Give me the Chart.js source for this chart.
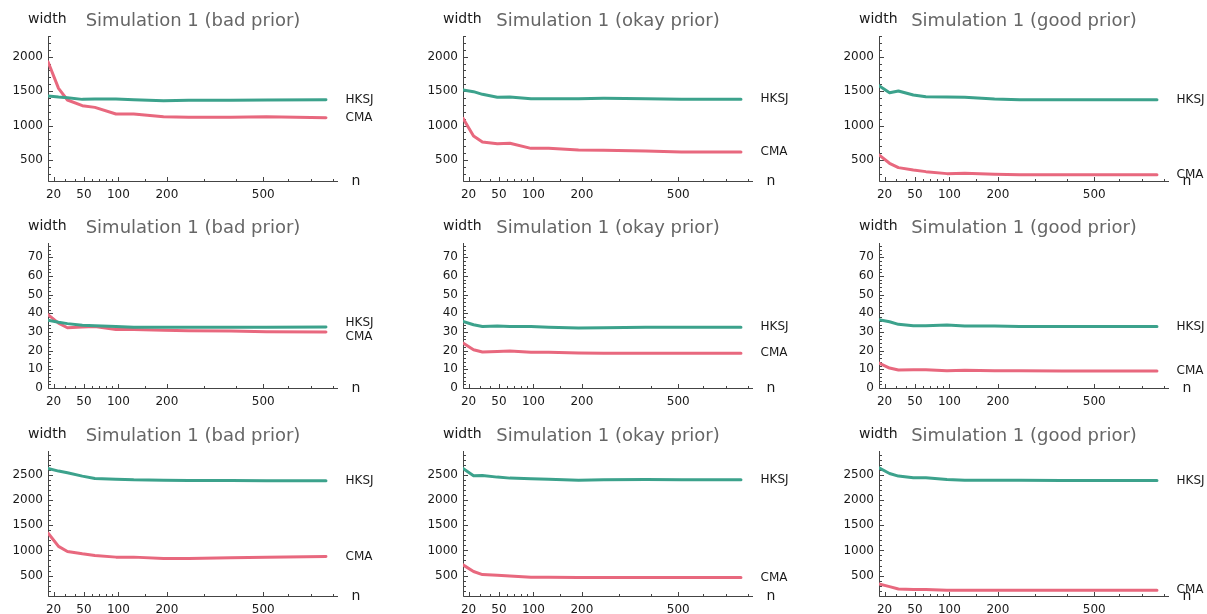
<!DOCTYPE html>
<html>
<head>
<meta charset="utf-8">
<script src="https://cdn.jsdelivr.net/npm/chart.js@4/dist/chart.umd.min.js"></script>
<style>
  html, body { margin: 0; padding: 0; background: #fff; overflow: hidden; }
  #grid { position: relative; width: 1207px; height: 614px; }
  #grid canvas { position: absolute; }
</style>
</head>
<body>
<div id="grid"></div>
<script>
// sample sizes (x values shared by every panel)
const nValues = [16, 24, 32, 48, 64, 96, 128, 192, 256, 384, 512, 768];

// row 1
const hksjBad1  = [1429, 1414, 1405, 1380, 1385, 1385, 1376, 1361, 1366, 1366, 1371, 1376];
const cmaBad1   = [1927, 1540, 1371, 1289, 1264, 1168, 1168, 1129, 1120, 1120, 1129, 1115];
const hksjOkay1 = [1516, 1492, 1453, 1410, 1414, 1390, 1390, 1390, 1395, 1390, 1380, 1380];
const cmaOkay1  = [1105, 848, 761, 737, 742, 669, 669, 645, 640, 630, 616, 616];
const hksjGood1 = [1579, 1477, 1502, 1444, 1419, 1414, 1410, 1385, 1376, 1376, 1376, 1376];
const cmaGood1  = [573, 452, 389, 355, 331, 302, 306, 292, 287, 287, 287, 287];

// row 2
const hksjBad2  = [36.3, 35.2, 34.5, 33.6, 33.4, 32.9, 32.5, 32.5, 32.5, 32.5, 32.5, 32.7];
const cmaBad2   = [39.3, 34.8, 32.3, 32.7, 33.0, 31.3, 31.3, 30.9, 30.7, 30.5, 30.2, 30.0];
const hksjOkay2 = [35.7, 33.9, 33.0, 33.2, 32.9, 32.9, 32.5, 32.1, 32.3, 32.5, 32.5, 32.5];
const cmaOkay2  = [24.1, 20.5, 19.3, 19.6, 19.8, 19.1, 19.1, 18.8, 18.6, 18.6, 18.6, 18.6];
const hksjGood2 = [36.6, 35.5, 34.1, 33.4, 33.4, 33.8, 33.2, 33.2, 33.0, 33.0, 33.0, 33.0];
const cmaGood2  = [13.4, 10.7, 9.6, 9.8, 9.8, 9.3, 9.5, 9.3, 9.3, 9.1, 9.1, 9.1];

// row 3
const hksjBad3  = [2633, 2580, 2547, 2480, 2433, 2420, 2407, 2400, 2393, 2393, 2387, 2387];
const cmaBad3   = [1347, 1080, 980, 933, 900, 867, 867, 840, 840, 853, 867, 880];
const hksjOkay3 = [2633, 2487, 2493, 2460, 2440, 2427, 2420, 2400, 2407, 2413, 2407, 2407];
const cmaOkay3  = [713, 580, 520, 507, 493, 467, 467, 460, 460, 460, 460, 460];
const hksjGood3 = [2647, 2533, 2480, 2447, 2447, 2413, 2400, 2400, 2400, 2393, 2393, 2393];
const cmaGood3  = [333, 280, 233, 220, 220, 207, 207, 207, 207, 207, 207, 207];

// tick labels
const xTicks = [20, 50, 100, 200, 500];
const xMinorTicks = [30, 40, 60, 70, 80, 90, 150, 300, 400, 600, 700, 800];
const yTicks1 = [500, 1000, 1500, 2000];
const yTicks2 = [0, 10, 20, 30, 40, 50, 60, 70];
const yTicks3 = [500, 1000, 1500, 2000, 2500];

const priors = ['bad prior', 'okay prior', 'good prior'];
const teal = '#3ca28c';
const pink = '#e8687e';

// square-root x axis
class SqrtScale extends Chart.LinearScale {
  static id = 'sqrt';
  getPixelForValue(value) {
    const a = Math.sqrt(this.min), b = Math.sqrt(this.max);
    return this.getPixelForDecimal((Math.sqrt(value) - a) / (b - a));
  }
  getValueForPixel(pixel) {
    const a = Math.sqrt(this.min), b = Math.sqrt(this.max);
    const s = a + this.getDecimalForPixel(pixel) * (b - a);
    return s * s;
  }
}
Chart.register(SqrtScale);

Chart.defaults.font.family = '"DejaVu Sans", sans-serif';
Chart.defaults.font.size = 12;
Chart.defaults.color = '#1a1a1a';

const panelDecor = {
  id: 'panelDecor',
  beforeDatasetsDraw(chart, args, opts) {
    const { ctx, chartArea: a, scales: { x, y } } = chart;
    ctx.save();
    ctx.strokeStyle = '#444';
    ctx.lineWidth = 1;
    ctx.beginPath();
    const ax = Math.round(a.left) + 0.5, ay = Math.round(a.bottom) + 0.5;
    ctx.moveTo(ax, a.top); ctx.lineTo(ax, ay);
    ctx.moveTo(ax, ay); ctx.lineTo(a.right, ay);
    const xt = (v, len) => {
      const px = Math.round(x.getPixelForValue(v)) + 0.5;
      ctx.moveTo(px, ay); ctx.lineTo(px, ay - len);
    };
    xTicks.forEach(v => xt(v, 4.5));
    xMinorTicks.forEach(v => xt(v, 2.5));
    const yt = (v, len) => {
      const py = Math.round(y.getPixelForValue(v)) + 0.5;
      ctx.moveTo(ax, py); ctx.lineTo(ax + len, py);
    };
    for (let v = Math.ceil(y.min / opts.minorStep) * opts.minorStep; v <= y.max; v += opts.minorStep) {
      yt(v, opts.majors.includes(v) ? 4.5 : 2.5);
    }
    ctx.stroke();
    ctx.restore();
  },
  afterDatasetsDraw(chart, args, opts) {
    const { ctx, chartArea: a, scales: { y } } = chart;
    ctx.save();
    ctx.textBaseline = 'middle';
    ctx.textAlign = 'center';
    ctx.fillStyle = '#666';
    ctx.font = '18px "DejaVu Sans"';
    ctx.fillText(opts.title, (a.left + a.right) / 2, 21.5);
    ctx.textAlign = 'left';
    ctx.fillStyle = '#1a1a1a';
    ctx.font = '14px "DejaVu Sans"';
    ctx.fillText('width', 28, 19.5);
    ctx.fillText('n', a.right + 13.5, a.bottom);
    // end labels, pushed apart when they would overlap
    const ds = chart.data.datasets;
    let yh = y.getPixelForValue(ds[0].data[ds[0].data.length - 1].y);
    let yc = y.getPixelForValue(ds[1].data[ds[1].data.length - 1].y);
    const gap = 14;
    if (Math.abs(yc - yh) < gap) {
      const mid = (yh + yc) / 2;
      const sgn = yc >= yh ? 1 : -1;
      yh = mid - sgn * gap / 2;
      yc = mid + sgn * gap / 2;
    }
    ctx.font = '12px "DejaVu Sans"';
    ctx.fillText('HKSJ', a.right + 7.5, yh);
    ctx.fillText('CMA', a.right + 7.5, yc);
    ctx.restore();
  }
};

const rows = [
  { hksj: [hksjBad1, hksjOkay1, hksjGood1], cma: [cmaBad1, cmaOkay1, cmaGood1], ticks: yTicks1, min: 195, max: 2300, minor: 100 },
  { hksj: [hksjBad2, hksjOkay2, hksjGood2], cma: [cmaBad2, cmaOkay2, cmaGood2], ticks: yTicks2, min: 0, max: 77.7, minor: 2 },
  { hksj: [hksjBad3, hksjOkay3, hksjGood3], cma: [cmaBad3, cmaOkay3, cmaGood3], ticks: yTicks3, min: 93, max: 2980, minor: 100 }
];
const lefts = [0, 415, 831];
const tops = [0, 207, 415];

const grid = document.getElementById('grid');
rows.forEach((row, r) => {
  priors.forEach((prior, c) => {
    const canvas = document.createElement('canvas');
    canvas.width = 376;
    canvas.height = 207;
    canvas.style.left = lefts[c] + 'px';
    canvas.style.top = tops[r] + 'px';
    grid.appendChild(canvas);

    const pts = arr => nValues.map((n, i) => ({ x: n, y: arr[i] }));
    new Chart(canvas, {
      type: 'line',
      data: {
        datasets: [
          { label: 'HKSJ', data: pts(row.hksj[c]), borderColor: teal },
          { label: 'CMA', data: pts(row.cma[c]), borderColor: pink }
        ]
      },
      options: {
        responsive: false,
        animation: false,
        devicePixelRatio: 1,
        layout: { padding: { left: 0, top: 36, right: 38, bottom: 0 } },
        elements: {
          line: { borderWidth: 3, tension: 0, borderJoinStyle: 'round', borderCapStyle: 'round' },
          point: { radius: 0 }
        },
        plugins: {
          legend: { display: false },
          tooltip: { enabled: false },
          panelDecor: { title: 'Simulation 1 (' + prior + ')', majors: row.ticks, minorStep: row.minor }
        },
        scales: {
          x: {
            type: 'sqrt',
            min: 16,
            max: 826,
            grid: { display: false, drawTicks: false, tickLength: 0 },
            border: { display: false },
            ticks: { autoSkip: false, maxRotation: 0, padding: 7, callback: v => String(v) },
            afterBuildTicks: s => { s.ticks = xTicks.map(v => ({ value: v })); },
            afterFit: s => { s.height = 26; }
          },
          y: {
            type: 'linear',
            min: row.min,
            max: row.max,
            grid: { display: false, drawTicks: false, tickLength: 0 },
            border: { display: false },
            ticks: { padding: 5, callback: v => String(v) },
            afterBuildTicks: s => { s.ticks = row.ticks.map(v => ({ value: v })); },
            afterFit: s => { s.width = 48; }
          }
        }
      },
      plugins: [panelDecor]
    });
  });
});
</script>
</body>
</html>
